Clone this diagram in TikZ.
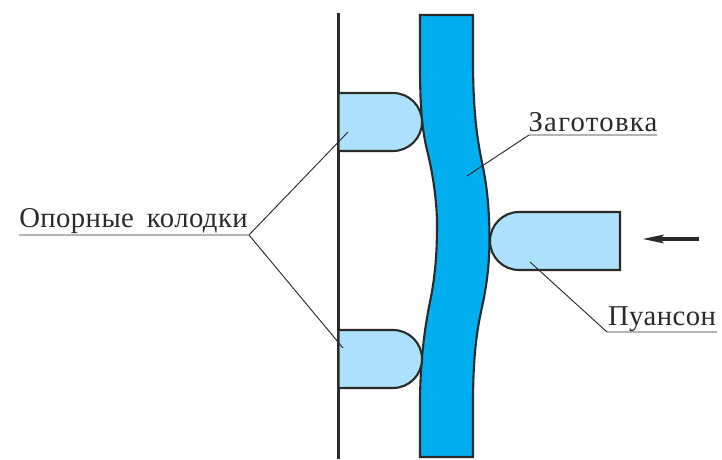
\documentclass[tikz,border=0pt]{standalone}
\usepackage{fontspec}
\setmainfont{Liberation Serif}[LetterSpace=1.5]
\definecolor{blank}{HTML}{00AEEF}
\definecolor{shoe}{HTML}{ABE1FA}
\definecolor{ink}{HTML}{2B2A29}
\tikzset{
  partline/.style={draw=ink, line width=1.8pt},
  leader/.style={draw=ink, line width=0.8pt},
  caption/.style={inner sep=0pt, text=ink, anchor=base, font=\fontsize{24.5}{24.5}\selectfont}
}
\begin{document}
\begin{tikzpicture}[x=0.03cm,y=-0.03cm]
\useasboundingbox (0,0) rectangle (722,460);
\draw[draw=ink, line width=2.1pt] (338.5,13) -- (338.5,459);
% workpiece
\draw[partline, fill=blank] (420,15) -- (473,15) -- (473,60)
  .. controls (473,110) and (477,140) .. (483,167)
  .. controls (487,187) and (489.5,210) .. (489.5,240)
  .. controls (489.5,262) and (487,285) .. (482,307)
  .. controls (477,330) and (473,355) .. (473,405)
  -- (473,457) -- (420,457) -- (420,405)
  .. controls (420,360) and (425,325) .. (431,297)
  .. controls (435,275) and (437,255) .. (437,225)
  .. controls (437,205) and (434,178) .. (427,150)
  .. controls (421,125) and (420,100) .. (420,60) -- cycle;
% supports and punch
\draw[partline, fill=shoe] (338.5,93) -- (393,93) arc (-90:90:29) -- (338.5,151) -- cycle;
\draw[partline, fill=shoe] (338.5,330) -- (393,330) arc (-90:90:29) -- (338.5,388) -- cycle;
\draw[partline, fill=shoe] (620,212) -- (519,212) arc (-90:-270:29) -- (620,270) -- cycle;
% labels
\node[caption] (supports) at (133.5,228) {Опорные\hspace{0.45em}колодки};
\node[caption] (blanklabel) at (593,132) {\addfontfeatures{LetterSpace=4.5}Заготовка};
\node[caption] (punchlabel) at (662,326) {Пуансон};
\coordinate (sup1) at (348,132);
\coordinate (sup2) at (343,348);
\coordinate (supJ) at (249,235);
\coordinate (supL) at (19,235);
\coordinate (blankin) at (467,176);
\coordinate (blankJ) at (529,135);
\coordinate (blankR) at (657,135);
\coordinate (punchin) at (530,262);
\coordinate (punchJ) at (607,332);
\coordinate (punchR) at (717,332);
\draw[leader] (supL) -- (supJ) -- (sup1);
\draw[leader] (supJ) -- (sup2);
\draw[leader] (blankin) -- (blankJ) -- (blankR);
\draw[leader] (punchin) -- (punchJ) -- (punchR);
% force
\coordinate (forceA) at (699,239);
\coordinate (forceB) at (643,239);
\draw[draw=ink, line width=2.8pt] (forceA) -- (660,239);
\fill[ink] (forceB) -- (664,234.5) -- (660,239) -- (664,243.5) -- cycle;
\end{tikzpicture}
\end{document}
